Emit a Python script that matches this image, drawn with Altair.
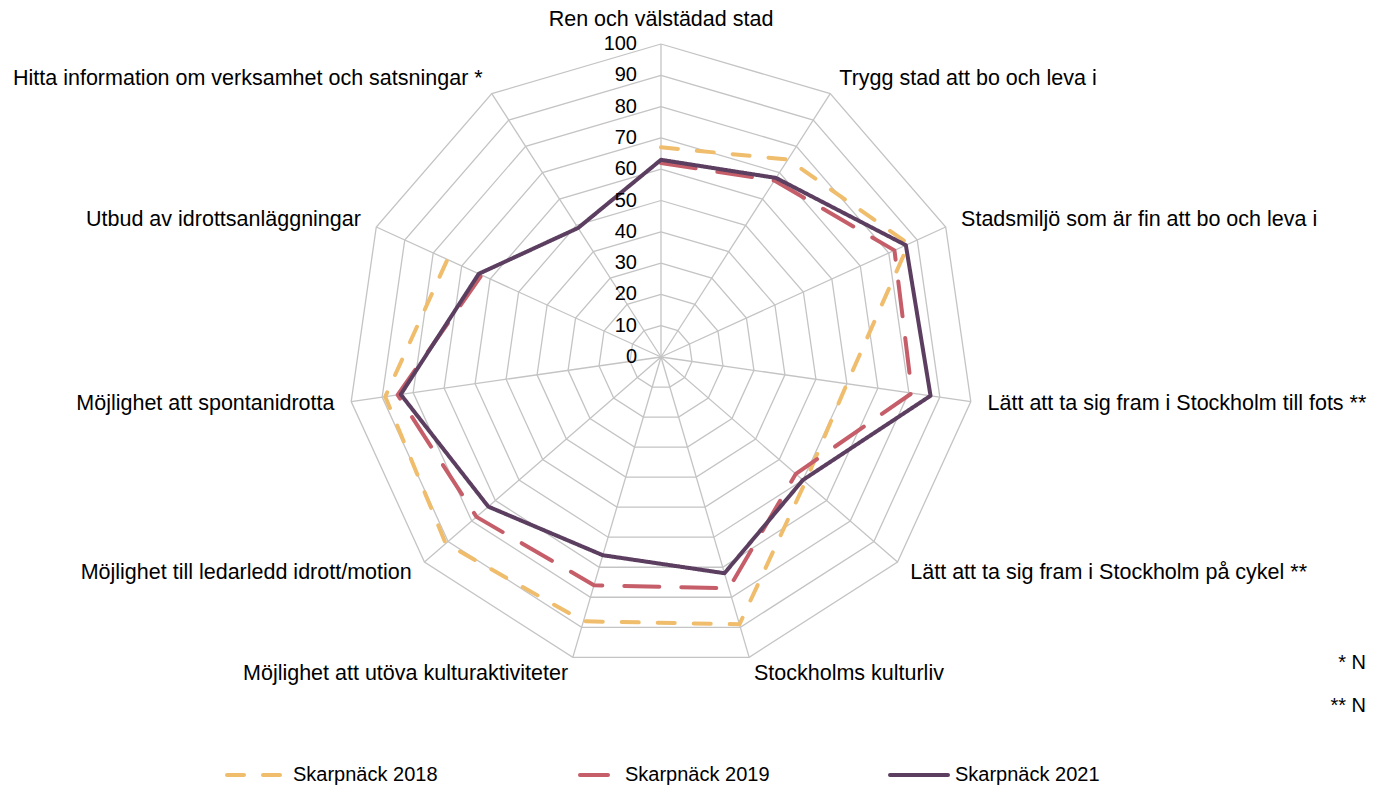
import math
import altair as alt
import pandas as pd

# ---------------- data ----------------
categories = [
    "Ren och välstädad stad",
    "Trygg stad att bo och leva i",
    "Stadsmiljö som är fin att bo och leva i",
    "Lätt att ta sig fram i Stockholm till fots **",
    "Lätt att ta sig fram i Stockholm på cykel **",
    "Stockholms kulturliv",
    "Möjlighet att utöva kulturaktiviteter",
    "Möjlighet till ledarledd idrott/motion",
    "Möjlighet att spontanidrotta",
    "Utbud av idrottsanläggningar",
    "Hitta information om verksamhet och satsningar *",
]
series_names = ["Skarpnäck 2018", "Skarpnäck 2019", "Skarpnäck 2021"]
values_2018 = [67, 75, 87, 60, 61, 89, 88, 91, 89, 75, None]
values_2019 = [62, 67, 82, 81, 57, 77, 76, 78, 85, 63, None]
values_2021 = [63, 68, 86, 87, 60, 72, 66, 73, 84, 64, 49]
tick_values = [0, 10, 20, 30, 40, 50, 60, 70, 80, 90, 100]
footnotes = ["* N", "** N"]

series_colors = ["#EFBD6C", "#C55E69", "#5C3F60"]
series_dashes = [[17, 19], [35, 22], [1, 0]]

# ---------------- layout helpers ----------------
K = 3.13            # px per value unit
CX, CY = 661, 357   # centre in page px
W, H = 1359, 779
FONT = "Liberation Sans"


def ux(px):
    return (px - CX) / K


def uy(py):
    return (CY - py) / K


xdom = [ux(8), ux(8 + W)]
ydom = [uy(8 + H), uy(8)]
n = len(categories)
angles = [2 * math.pi * i / n for i in range(n)]

X = lambda f: alt.X(f, type="quantitative", scale=alt.Scale(domain=xdom, nice=False, zero=False), axis=None)
Y = lambda f: alt.Y(f, type="quantitative", scale=alt.Scale(domain=ydom, nice=False, zero=False), axis=None)

# grid polygons
grid_rows = []
for lvl in tick_values[1:]:
    for j in range(n + 1):
        a = angles[j % n]
        grid_rows.append({"lvl": lvl, "o": j, "x": lvl * math.sin(a), "y": lvl * math.cos(a)})
grid = alt.Chart(pd.DataFrame(grid_rows)).mark_line(color="#C4C4C4", strokeWidth=1.3).encode(
    x=X("x"), y=Y("y"), detail="lvl:N", order="o:Q"
)

# spokes
spoke_df = pd.DataFrame({
    "x": [0.0] * n, "y": [0.0] * n,
    "x2": [100 * math.sin(a) for a in angles],
    "y2": [100 * math.cos(a) for a in angles],
})
spokes = alt.Chart(spoke_df).mark_rule(color="#C4C4C4", strokeWidth=1.3).encode(
    x=X("x"), y=Y("y"), x2="x2:Q", y2="y2:Q"
)

# series lines
rows = []
for name, vals in zip(series_names, [values_2018, values_2019, values_2021]):
    pts = [(i, v) for i, v in enumerate(vals) if v is not None]
    closed = len(pts) == n
    seq = pts + ([pts[0]] if closed else [])
    for k, (i, v) in enumerate(seq):
        a = angles[i]
        rows.append({"series": name, "o": k, "x": v * math.sin(a), "y": v * math.cos(a)})
series_df = pd.DataFrame(rows)

color_scale = alt.Scale(domain=series_names, range=series_colors)
dash_scale = alt.Scale(domain=series_names, range=series_dashes)

lines = alt.Chart(series_df).mark_line(strokeWidth=4, strokeCap="round", strokeJoin="round").encode(
    x=X("x"), y=Y("y"), order="o:Q",
    color=alt.Color("series:N", scale=color_scale, legend=None),
    strokeDash=alt.StrokeDash("series:N", scale=dash_scale, legend=None),
)

# tick labels
tick_df = pd.DataFrame({"t": [str(v) for v in tick_values], "x": [ux(637)] * len(tick_values), "y": tick_values})
ticks = alt.Chart(tick_df).mark_text(align="right", baseline="middle", font=FONT, fontSize=20, color="#000000").encode(
    x=X("x"), y=Y("y"), text="t:N"
)

# category labels
lab_rows = []
for i, (c, a) in enumerate(zip(categories, angles)):
    r = 105.4 if i != 0 else (CY - 20) / K
    s = math.sin(a)
    al = "left" if s > 0.01 else ("right" if s < -0.01 else "center")
    lab_rows.append({"label": c, "x": r * s, "y": r * math.cos(a), "al": al})
lab_df = pd.DataFrame(lab_rows)
label_layers = []
for al in ["left", "right", "center"]:
    label_layers.append(
        alt.Chart(lab_df[lab_df["al"] == al]).mark_text(
            align=al, baseline="middle", font=FONT, fontSize=21.5, color="#000000"
        ).encode(x=X("x"), y=Y("y"), text="label:N")
    )

# legend (drawn manually)
leg_y = uy(775)
leg_df = pd.DataFrame({
    "series": series_names,
    "x": [ux(227), ux(580), ux(890)],
    "x2": [ux(283), ux(608), ux(948)],
    "y": [leg_y] * 3,
    "tx": [ux(293), ux(625), ux(955)],
})
leg_lines = alt.Chart(leg_df).mark_rule(strokeWidth=4, strokeCap="round").encode(
    x=X("x"), x2="x2:Q", y=Y("y"),
    color=alt.Color("series:N", scale=color_scale, legend=None),
    strokeDash=alt.StrokeDash("series:N", scale=dash_scale, legend=None),
)
leg_text = alt.Chart(leg_df).mark_text(align="left", baseline="middle", font=FONT, fontSize=20, color="#000000").encode(
    x=X("tx"), y=Y("y"), text="series:N"
)

# footnotes
foot_df = pd.DataFrame({"t": footnotes, "x": [ux(1366)] * 2, "y": [uy(663), uy(706)]})
foot = alt.Chart(foot_df).mark_text(align="right", baseline="middle", font=FONT, fontSize=20, color="#000000").encode(
    x=X("x"), y=Y("y"), text="t:N"
)

chart = alt.layer(grid, spokes, lines, ticks, *label_layers, leg_lines, leg_text, foot).properties(
    width=W, height=H, padding=0, autosize=alt.AutoSizeParams(type="none")
).configure_view(stroke=None)

chart.save("out.html", embed_options={"renderer": "svg", "actions": False})
